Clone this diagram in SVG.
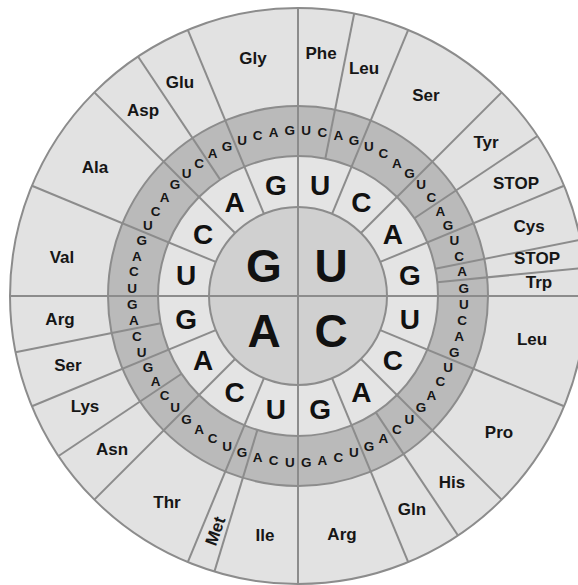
<svg xmlns="http://www.w3.org/2000/svg" width="578" height="585" viewBox="0 0 578 585">
<style>
.ring{stroke:#8c8c8c;stroke-width:2}
.ln{stroke:#8c8c8c;stroke-width:2;fill:none}
.aa{font-family:"Liberation Sans",Arial,sans-serif;font-weight:bold;font-size:17px;fill:#161616;text-anchor:middle}
.big{font-family:"Liberation Sans",Arial,sans-serif;font-weight:bold;font-size:46px;fill:#111;text-anchor:middle}
.mid{font-family:"Liberation Sans",Arial,sans-serif;font-weight:bold;font-size:28px;fill:#111;text-anchor:middle}
.sm{font-family:"Liberation Sans",Arial,sans-serif;font-weight:bold;font-size:13.5px;fill:#161616;text-anchor:middle}
</style>
<rect width="578" height="585" fill="#ffffff"/>
<g id="rings">
<circle class="ring" cx="298" cy="296" r="288" fill="#e2e2e2"/>
<circle class="ring" cx="298" cy="296" r="190" fill="#bababa"/>
<circle class="ring" cx="298" cy="296" r="140" fill="#e4e4e4"/>
<circle class="ring" cx="298" cy="296" r="89" fill="#d0d0d0"/>
</g>
<g id="connectors">
<line class="ln" x1="298" y1="8" x2="298" y2="584"/>
<line class="ln" x1="10" y1="296" x2="586" y2="296"/>
<line class="ln" x1="332.06" y1="213.77" x2="408.21" y2="29.92"/>
<line class="ln" x1="360.93" y1="233.07" x2="501.65" y2="92.35"/>
<line class="ln" x1="380.23" y1="261.94" x2="564.08" y2="185.79"/>
<line class="ln" x1="380.23" y1="330.06" x2="564.08" y2="406.21"/>
<line class="ln" x1="360.93" y1="358.93" x2="501.65" y2="499.65"/>
<line class="ln" x1="332.06" y1="378.23" x2="408.21" y2="562.08"/>
<line class="ln" x1="263.94" y1="378.23" x2="187.79" y2="562.08"/>
<line class="ln" x1="235.07" y1="358.93" x2="94.35" y2="499.65"/>
<line class="ln" x1="215.77" y1="330.06" x2="31.92" y2="406.21"/>
<line class="ln" x1="215.77" y1="261.94" x2="31.92" y2="185.79"/>
<line class="ln" x1="235.07" y1="233.07" x2="94.35" y2="92.35"/>
<line class="ln" x1="263.94" y1="213.77" x2="187.79" y2="29.92"/>
<line class="ln" x1="325.31" y1="158.69" x2="354.19" y2="13.53"/>
<line class="ln" x1="414.41" y1="218.22" x2="537.46" y2="136.00"/>
<line class="ln" x1="435.31" y1="268.69" x2="580.47" y2="239.81"/>
<line class="ln" x1="437.33" y1="282.28" x2="584.61" y2="267.77"/>
<line class="ln" x1="375.78" y1="412.41" x2="458.00" y2="535.46"/>
<line class="ln" x1="257.36" y1="429.97" x2="214.40" y2="571.60"/>
<line class="ln" x1="181.59" y1="373.78" x2="58.54" y2="456.00"/>
<line class="ln" x1="160.69" y1="323.31" x2="15.53" y2="352.19"/>
<line class="ln" x1="220.22" y1="179.59" x2="138.00" y2="56.54"/>
</g>
<g id="first-letter">
<text class="big" x="264" y="282">G</text>
<text class="big" x="331" y="282">U</text>
<text class="big" x="264" y="347">A</text>
<text class="big" x="331" y="347">C</text>
</g>
<g id="second-letter">
<text class="mid" x="320.2" y="195">U</text>
<text class="mid" x="361.3" y="212">C</text>
<text class="mid" x="392.8" y="243.5">A</text>
<text class="mid" x="409.8" y="284.5">G</text>
<text class="mid" x="409.8" y="329">U</text>
<text class="mid" x="392.8" y="370">C</text>
<text class="mid" x="361.3" y="401.5">A</text>
<text class="mid" x="320.2" y="418.5">G</text>
<text class="mid" x="275.8" y="418.5">U</text>
<text class="mid" x="234.7" y="401.5">C</text>
<text class="mid" x="203.2" y="370">A</text>
<text class="mid" x="186.2" y="329">G</text>
<text class="mid" x="186.2" y="284.5">U</text>
<text class="mid" x="203.2" y="243.5">C</text>
<text class="mid" x="234.7" y="212">A</text>
<text class="mid" x="275.8" y="195">G</text>
</g>
<g id="third-letter">
<text class="sm" x="306.15" y="135">U</text>
<text class="sm" x="322.36" y="136.6">C</text>
<text class="sm" x="338.33" y="139.8">A</text>
<text class="sm" x="353.92" y="144.5">G</text>
<text class="sm" x="368.97" y="150.7">U</text>
<text class="sm" x="383.34" y="158.4">C</text>
<text class="sm" x="396.89" y="167.5">A</text>
<text class="sm" x="409.48" y="177.8">G</text>
<text class="sm" x="421.00" y="189.3">U</text>
<text class="sm" x="431.33" y="201.9">C</text>
<text class="sm" x="440.38" y="215.5">A</text>
<text class="sm" x="448.06" y="229.8">G</text>
<text class="sm" x="454.30" y="244.9">U</text>
<text class="sm" x="459.02" y="260.5">C</text>
<text class="sm" x="462.20" y="276.4">A</text>
<text class="sm" x="463.80" y="292.6">G</text>
<text class="sm" x="463.80" y="308.9">U</text>
<text class="sm" x="462.20" y="325.2">C</text>
<text class="sm" x="459.02" y="341.1">A</text>
<text class="sm" x="454.30" y="356.7">G</text>
<text class="sm" x="448.06" y="371.8">U</text>
<text class="sm" x="440.38" y="386.1">C</text>
<text class="sm" x="431.33" y="399.7">A</text>
<text class="sm" x="421.00" y="412.3">G</text>
<text class="sm" x="409.48" y="423.8">U</text>
<text class="sm" x="396.89" y="434.1">C</text>
<text class="sm" x="383.34" y="443.2">A</text>
<text class="sm" x="368.97" y="450.9">G</text>
<text class="sm" x="353.92" y="457.1">U</text>
<text class="sm" x="338.33" y="461.8">C</text>
<text class="sm" x="322.36" y="465">A</text>
<text class="sm" x="306.15" y="466.6">G</text>
<text class="sm" x="289.85" y="466.6">U</text>
<text class="sm" x="273.64" y="465">C</text>
<text class="sm" x="257.67" y="461.8">A</text>
<text class="sm" x="242.08" y="457.1">G</text>
<text class="sm" x="227.03" y="450.9">U</text>
<text class="sm" x="212.66" y="443.2">C</text>
<text class="sm" x="199.11" y="434.1">A</text>
<text class="sm" x="186.52" y="423.8">G</text>
<text class="sm" x="175.00" y="412.3">U</text>
<text class="sm" x="164.67" y="399.7">C</text>
<text class="sm" x="155.62" y="386.1">A</text>
<text class="sm" x="147.94" y="371.8">G</text>
<text class="sm" x="141.70" y="356.7">U</text>
<text class="sm" x="136.98" y="341.1">C</text>
<text class="sm" x="133.80" y="325.2">A</text>
<text class="sm" x="132.20" y="308.9">G</text>
<text class="sm" x="132.20" y="292.6">U</text>
<text class="sm" x="133.80" y="276.4">C</text>
<text class="sm" x="136.98" y="260.5">A</text>
<text class="sm" x="141.70" y="244.9">G</text>
<text class="sm" x="147.94" y="229.8">U</text>
<text class="sm" x="155.62" y="215.5">C</text>
<text class="sm" x="164.67" y="201.9">A</text>
<text class="sm" x="175.00" y="189.3">G</text>
<text class="sm" x="186.52" y="177.8">U</text>
<text class="sm" x="199.11" y="167.5">C</text>
<text class="sm" x="212.66" y="158.4">A</text>
<text class="sm" x="227.03" y="150.7">G</text>
<text class="sm" x="242.08" y="144.5">U</text>
<text class="sm" x="257.67" y="139.8">C</text>
<text class="sm" x="273.64" y="136.6">A</text>
<text class="sm" x="289.85" y="135">G</text>
</g>
<g id="aa-Phe"><text class="aa" x="321" y="59">Phe</text></g>
<g id="aa-Leu1"><text class="aa" x="364" y="74">Leu</text></g>
<g id="aa-Ser1"><text class="aa" x="426" y="101">Ser</text></g>
<g id="aa-Tyr"><text class="aa" x="486" y="148">Tyr</text></g>
<g id="aa-STOP1"><text class="aa" x="516" y="189">STOP</text></g>
<g id="aa-Cys"><text class="aa" x="529" y="232">Cys</text></g>
<g id="aa-STOP2"><text class="aa" x="537" y="264">STOP</text></g>
<g id="aa-Trp"><text class="aa" x="539" y="288">Trp</text></g>
<g id="aa-Leu2"><text class="aa" x="532" y="345">Leu</text></g>
<g id="aa-Pro"><text class="aa" x="499" y="438">Pro</text></g>
<g id="aa-His"><text class="aa" x="452" y="488">His</text></g>
<g id="aa-Gln"><text class="aa" x="412" y="515">Gln</text></g>
<g id="aa-Arg1"><text class="aa" x="342" y="540">Arg</text></g>
<g id="aa-Ile"><text class="aa" x="265" y="541">Ile</text></g>
<g id="aa-Met"><text class="aa" transform="translate(215,531) rotate(-70)" x="0" y="6">Met</text></g>
<g id="aa-Thr"><text class="aa" x="167" y="508">Thr</text></g>
<g id="aa-Asn"><text class="aa" x="112" y="455">Asn</text></g>
<g id="aa-Lys"><text class="aa" x="85" y="412">Lys</text></g>
<g id="aa-Ser2"><text class="aa" x="68" y="371">Ser</text></g>
<g id="aa-Arg2"><text class="aa" x="60" y="325">Arg</text></g>
<g id="aa-Val"><text class="aa" x="62" y="263">Val</text></g>
<g id="aa-Ala"><text class="aa" x="95" y="173">Ala</text></g>
<g id="aa-Asp"><text class="aa" x="143" y="116">Asp</text></g>
<g id="aa-Glu"><text class="aa" x="180" y="88">Glu</text></g>
<g id="aa-Gly"><text class="aa" x="253" y="64">Gly</text></g>
</svg>
